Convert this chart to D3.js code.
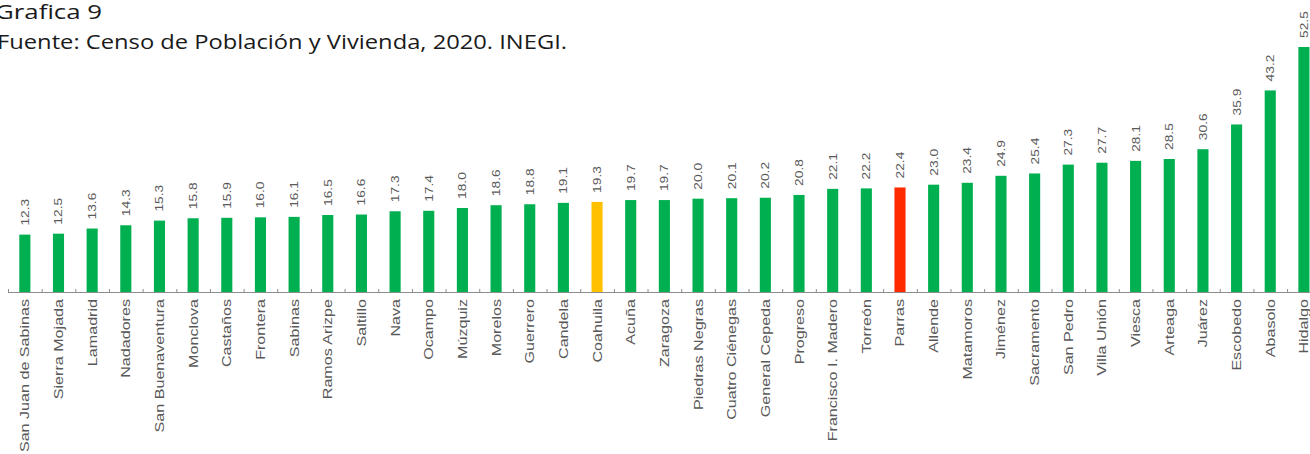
<!DOCTYPE html>
<html>
<head>
<meta charset="utf-8">
<script src="https://cdn.jsdelivr.net/npm/d3@7"></script>
<style>
  body { margin: 0; background: #fff; overflow: hidden; }
  svg { display: block; }
</style>
</head>
<body>
<div id="canvas"></div>
<script>
// municipios de Coahuila, ordenados de menor a mayor
var municipios = ['San Juan de Sabinas','Sierra Mojada','Lamadrid','Nadadores','San Buenaventura',
  'Monclova','Castaños','Frontera','Sabinas','Ramos Arizpe','Saltillo','Nava','Ocampo','Múzquiz',
  'Morelos','Guerrero','Candela','Coahuila','Acuña','Zaragoza','Piedras Negras','Cuatro Ciénegas',
  'General Cepeda','Progreso','Francisco I. Madero','Torreón','Parras','Allende','Matamoros',
  'Jiménez','Sacramento','San Pedro','Villa Unión','Viesca','Arteaga','Juárez','Escobedo',
  'Abasolo','Hidalgo'];
var valores = [12.3,12.5,13.6,14.3,15.3,15.8,15.9,16.0,16.1,16.5,16.6,17.3,17.4,18.0,
  18.6,18.8,19.1,19.3,19.7,19.7,20.0,20.1,20.2,20.8,22.1,22.2,22.4,23.0,23.4,
  24.9,25.4,27.3,27.7,28.1,28.5,30.6,35.9,43.2,52.5];
var titulo = 'Grafica 9';
var fuente = 'Fuente: Censo de Población y Vivienda, 2020. INEGI.';

var W = 1310, H = 454;
var base = 292;

var data = municipios.map(function(d,i){ return {name: d, value: valores[i]}; });

var svg = d3.select('#canvas')
    .append('svg')
    .attr('width', W)
    .attr('height', H);

// titles
svg.append('text')
    .attr('x', -5).attr('y', 19)
    .attr('textLength', 107)
    .attr('lengthAdjust', 'spacingAndGlyphs')
    .style('font-family', 'Open Sans, sans-serif')
    .style('font-size', '20px')
    .style('fill', '#1a1a1a')
    .text(titulo);
svg.append('text')
    .attr('x', -3).attr('y', 49)
    .attr('textLength', 570)
    .attr('lengthAdjust', 'spacingAndGlyphs')
    .style('font-family', 'Open Sans, sans-serif')
    .style('font-size', '20px')
    .style('fill', '#1a1a1a')
    .text(fuente);

// Scale
var scaleX = d3.scaleBand()
    .domain(municipios)
    .range([8, 8 + 39 * 33.66])
    .paddingInner(0.67)
    .paddingOuter(0.335);
var scaleY = d3.scaleLinear()
    .domain([0, 52.5])
    .range([base, 47]);

var color = function(d){
  if (d.name === 'Coahuila') return '#ffc000';
  if (d.name === 'Parras') return '#ff2a00';
  return '#00b050';
};

// bars
svg.selectAll('rect.bar')
    .data(data)
    .enter()
    .append('rect')
    .attr('class','bar')
    .attr('x', function(d){ return scaleX(d.name); })
    .attr('width', scaleX.bandwidth())
    .attr('y', function(d){ return scaleY(d.value); })
    .attr('height', function(d){ return base - scaleY(d.value); })
    .style('fill', color);

// axis
var step = scaleX.step();
svg.append('line')
    .attr('x1', 8).attr('x2', W)
    .attr('y1', base + 0.5).attr('y2', base + 0.5)
    .style('stroke', '#8c8c8c').style('stroke-width', 1.2);
svg.selectAll('line.tick')
    .data(d3.range(40))
    .enter()
    .append('line')
    .attr('class','tick')
    .attr('x1', function(i){ return 8.5 + i * step; })
    .attr('x2', function(i){ return 8.5 + i * step; })
    .attr('y1', base - 3).attr('y2', base + 1)
    .style('stroke', '#8c8c8c').style('stroke-width', 1);

var cx = function(d){ return scaleX(d.name) + scaleX.bandwidth() / 2; };
var fmt = d3.format('.1f');

// value labels
svg.selectAll('text.val')
    .data(data)
    .enter()
    .append('text')
    .attr('class','val')
    .attr('transform', function(d){
      return 'translate(' + (cx(d) + 4) + ',' + (scaleY(d.value) - 9) + ') rotate(-90) scale(1.2,1)';
    })
    .style('font-family', 'Liberation Sans, Arial, sans-serif')
    .style('font-size', '11.5px')
    .style('fill', '#595959')
    .text(function(d){ return fmt(d.value); });

// category labels
svg.selectAll('text.cat')
    .data(data)
    .enter()
    .append('text')
    .attr('class','cat')
    .attr('text-anchor', 'end')
    .attr('transform', function(d){
      return 'translate(' + (cx(d) + 4.5) + ',' + (base + 7) + ') rotate(-90) scale(1.29,1)';
    })
    .style('font-family', 'Liberation Sans, Arial, sans-serif')
    .style('font-size', '12.5px')
    .style('fill', '#595959')
    .text(function(d){ return d.name; });
</script>
</body>
</html>
